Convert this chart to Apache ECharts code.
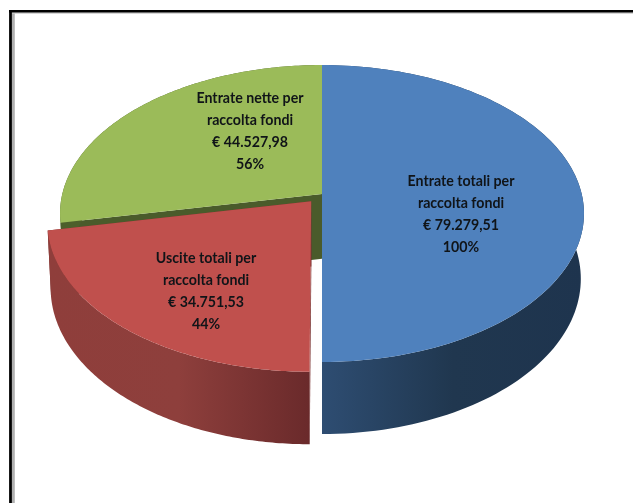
<!DOCTYPE html>
<html>
<head>
<meta charset="utf-8">
<style>html,body{margin:0;padding:0;background:#fff}#c{width:633px;height:503px}</style>
<script src="https://cdn.jsdelivr.net/npm/echarts@6/dist/echarts.min.js"></script>
</head>
<body>
<div id="c"></div>
<script>
// ---- data ----
const categories = ['Entrate totali per\nraccolta fondi', 'Uscite totali per\nraccolta fondi', 'Entrate nette per\nraccolta fondi'];
const values = [79279.51, 34751.53, 44527.98];
const amountLabels = ['€ 79.279,51', '€ 34.751,53', '€ 44.527,98'];
const percentLabels = ['100%', '44%', '56%'];
// ---- styling / layout ----
const topColors = ['#4f81bd', '#c0504d', '#9bbb59'];
const sideStops = [
  ['#2e4d72', '#20374f', '#1e344e'],
  ['#8f3e3b', '#8e3f3c', '#6a2a2b'],
  ['#4c5f2b', '#4c5f2b', '#4c5f2b']
];
const cutColors = ['#2a4565', '#7a3230', '#4a5b2b'];
const explode = [0, 0.065, 0];
const labelCentres = [[461, 214], [206, 291], [250, 131]];
const paintOrder = [4, 6, 2];
const apex = [322, 194], A = 259.7, B = 145.9, P = 0.1313, H = 65.5, Q = 0.012;

function project(u, v, z) {
  const w = 1 - P * v + Q * z;
  return [apex[0] + A * u / w, apex[1] + (B * v + H * z) / w];
}
const total = values.reduce((a, b) => a + b, 0);

function renderSlice(params, api) {
  const i = params.dataIndex;
  let before = 0;
  for (let k = 0; k < i; k++) before += values[k];
  const a0 = before / total * 2 * Math.PI;
  const a1 = (before + api.value(0)) / total * 2 * Math.PI;
  const mid = (a0 + a1) / 2;
  const ox = Math.sin(mid) * explode[i], oy = -Math.cos(mid) * explode[i];
  const rim = (a) => [ox + Math.sin(a), oy - Math.cos(a)];
  const pts = [];
  const n = 120;
  for (let k = 0; k <= n; k++) pts.push(rim(a0 + (a1 - a0) * k / n));
  const topPoly = [project(ox, oy, 0)].concat(pts.map(p => project(p[0], p[1], 0)));
  const wallPoly = pts.map(p => project(p[0], p[1], 0))
    .concat(pts.slice().reverse().map(p => project(p[0], p[1], 1)));
  const cut = (p) => [project(ox, oy, 0), project(p[0], p[1], 0), project(p[0], p[1], 1), project(ox, oy, 1)];
  const z = paintOrder[i];
  const stops = sideStops[i];
  const grad = new echarts.graphic.LinearGradient(0, 0, 1, 0, [
    { offset: 0, color: stops[0] }, { offset: 0.5, color: stops[1] }, { offset: 1, color: stops[2] }
  ]);
  return {
    type: 'group',
    children: [
      { type: 'polygon', z2: z, shape: { points: cut(pts[0]) }, style: { fill: cutColors[i] } },
      { type: 'polygon', z2: z, shape: { points: cut(pts[n]) }, style: { fill: cutColors[i] } },
      { type: 'polygon', z2: z + 0.1, shape: { points: wallPoly }, style: { fill: grad } },
      { type: 'polygon', z2: z + 0.2, shape: { points: topPoly }, style: { fill: topColors[i] } },
      { type: 'text', z2: 20, x: labelCentres[i][0], y: labelCentres[i][1], style: {
          text: categories[i] + '\n' + amountLabels[i] + '\n' + percentLabels[i],
          align: 'center', verticalAlign: 'middle',
          fontFamily: 'Lato', fontWeight: 'bold', fontSize: 14.2, lineHeight: 22, fill: '#101418'
      } }
    ]
  };
}

const chart = echarts.init(document.getElementById('c'), null, { renderer: 'canvas' });
chart.setOption({
  animation: false,
  backgroundColor: '#ffffff',
  graphic: [
    { type: 'line', z: 0, shape: { x1: 13.4, y1: 13, x2: 13.4, y2: 503 }, style: { stroke: '#b0b0b0', lineWidth: 2.8 } },
    { type: 'line', z: 0, shape: { x1: 12, y1: 13, x2: 633, y2: 13 }, style: { stroke: '#c8c8c8', lineWidth: 1.5 } },
    { type: 'line', z: 1, shape: { x1: 10.5, y1: 10, x2: 10.5, y2: 503 }, style: { stroke: '#000', lineWidth: 2.8 } },
    { type: 'line', z: 1, shape: { x1: 9, y1: 11.2, x2: 633, y2: 11.2 }, style: { stroke: '#000', lineWidth: 2.4 } }
  ],
  series: [{
    type: 'custom',
    coordinateSystem: 'none',
    renderItem: renderSlice,
    data: values.map((v, i) => ({ name: categories[i], value: [v] })),
    silent: true
  }]
});
</script>
</body>
</html>
